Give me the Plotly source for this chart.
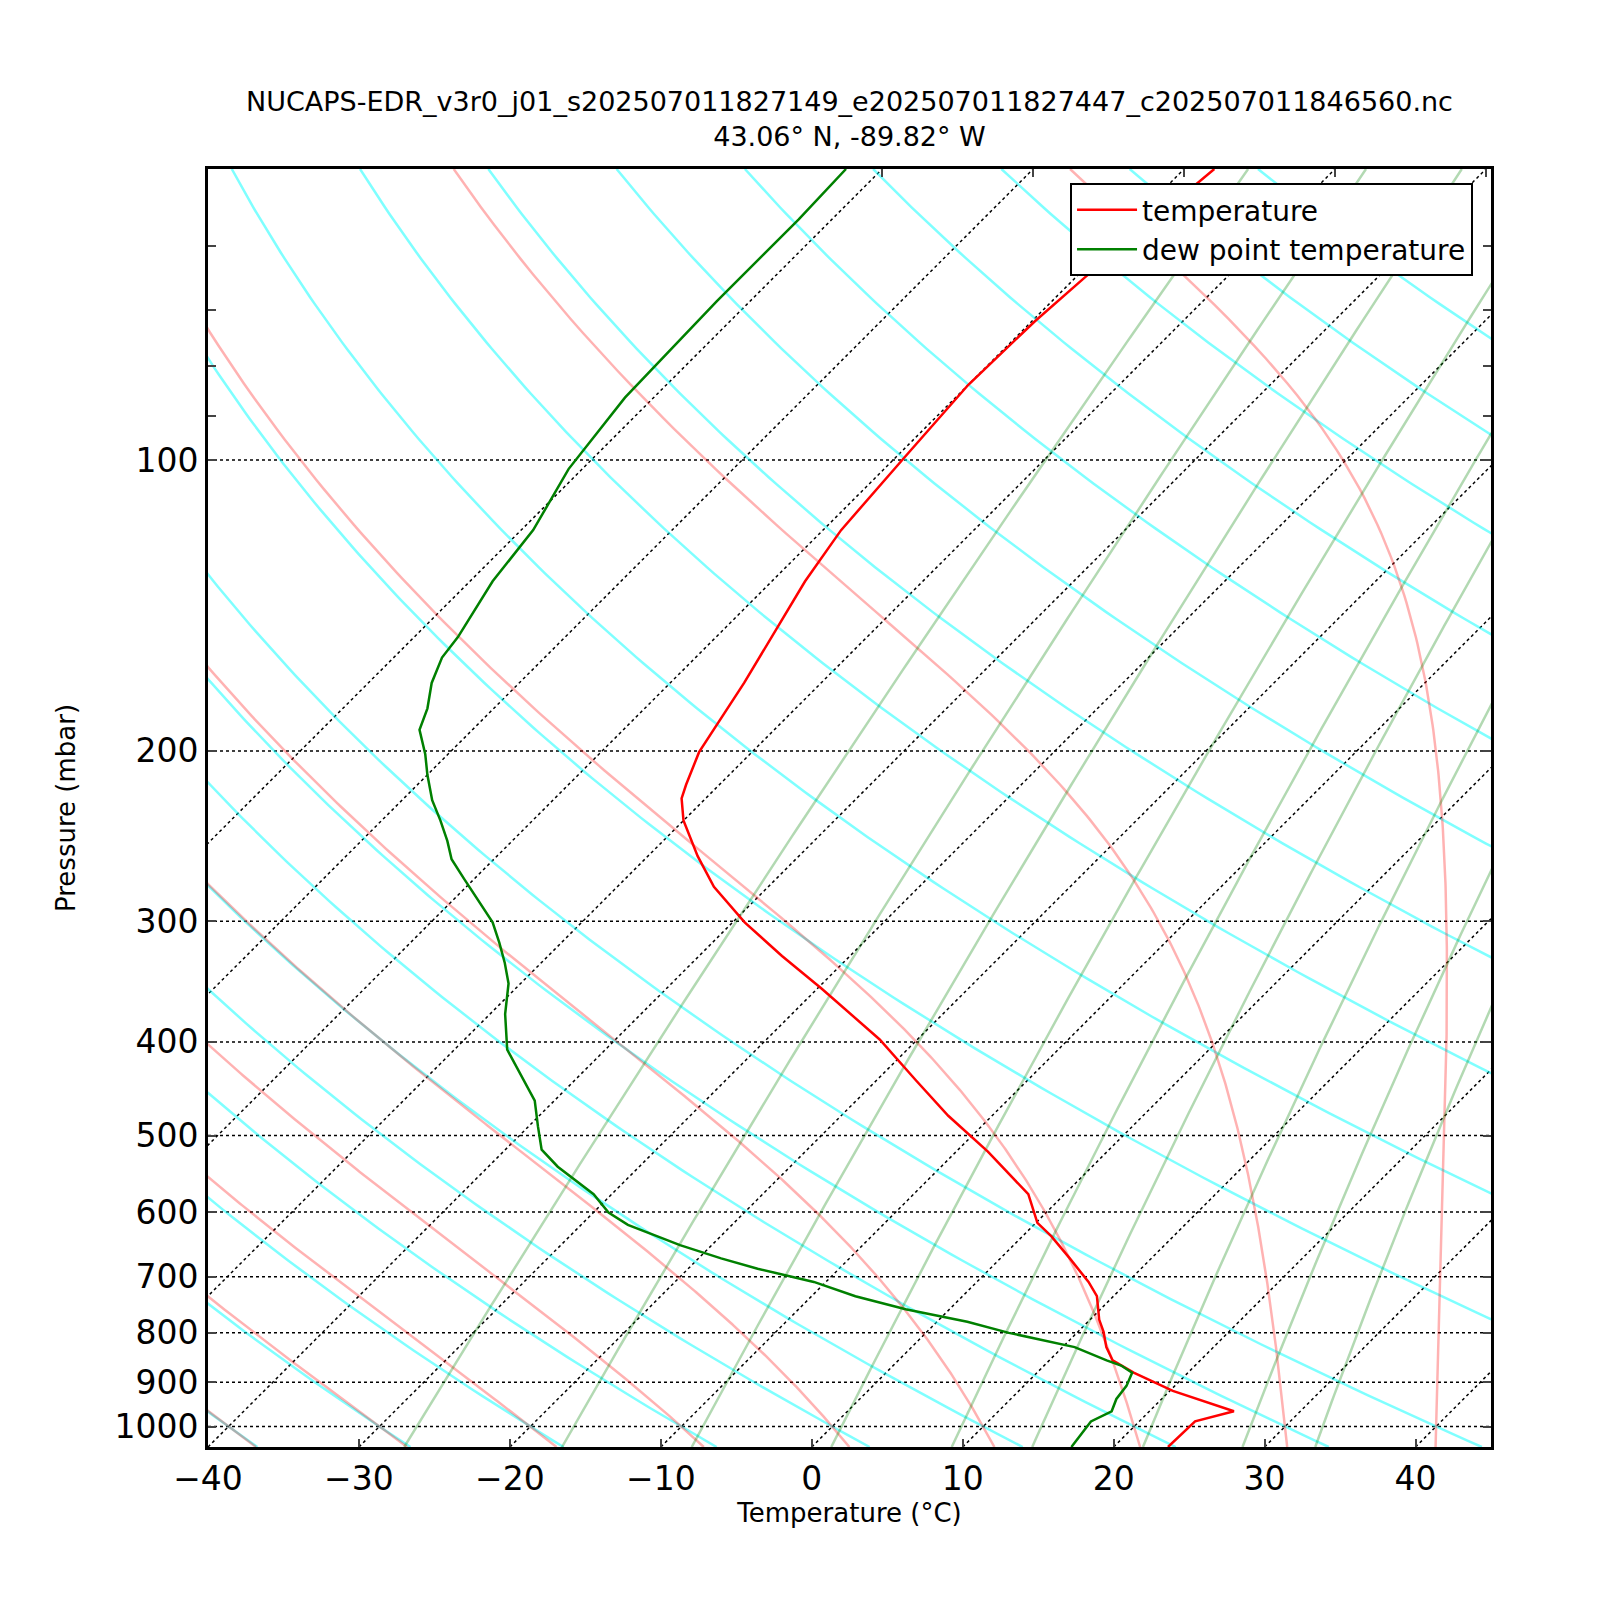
import numpy as np
import plotly.graph_objects as go

# sounding (pressure in mbar, temperature in degC)
temp_p = [50, 64.8, 71.9, 83.6, 100, 118.2, 133.5, 170.1, 200.6, 216.8, 223.9, 236.1, 257, 276.4,
          300.9, 326, 352.4, 397.7, 438.3, 477, 519.5, 551.8, 575, 615.6, 635.5, 670, 708.6, 733.1,
          775.1, 798, 827.7, 854.3, 879.6, 918.5, 964.3, 987.9, 1050]
temp_c = [-58.0, -59.4, -59.8, -60.0, -59.4, -58.8, -57.8, -55.1, -53.5, -52.2, -51.6, -50.0, -46.7, -43.6,
          -39.2, -34.5, -29.7, -22.5, -17.4, -12.9, -7.9, -4.6, -2.4, 0.1, 1.9, 4.6, 7.4, 8.9,
          10.6, 11.7, 12.9, 14.2, 16.4, 20.2, 25.6, 23.7, 23.6]
dew_p = [50, 56.4, 68.5, 86.2, 102.2, 118.2, 133.5, 152.5, 160.1, 170.1, 180.7, 190.2, 201.6, 211.7,
         224.9, 236.1, 247.8, 258.9, 271.1, 286.7, 300.9, 315.9, 331.5, 348, 374.3, 407.5, 433, 460.1,
         488.9, 517, 538.5, 575, 600.6, 618.5, 649.2, 670, 686.6, 708.6, 733.1, 756.4, 779, 800,
         827.7, 854.3, 864.8, 879.6, 907.7, 936.5, 964.3, 987.9, 1050]
dew_c = [-82.4, -82.2, -82.2, -81.9, -80.9, -79.2, -78.5, -77.1, -76.8, -75.8, -74.4, -73.5, -71.5, -70.0,
         -68.0, -66.1, -64.3, -62.8, -60.7, -58.1, -55.9, -54.1, -52.4, -50.8, -49.0, -46.5, -43.9, -41.3,
         -39.4, -37.6, -35.4, -31.2, -29.0, -26.9, -22.1, -18.5, -15.4, -10.8, -7.1, -2.9, 2.0, 5.5,
         10.8, 13.8, 15.1, 16.3, 16.8, 17.0, 17.5, 16.8, 17.2]

# background lines
dry_t0 = list(range(-40, 41, 10)) + list(range(60, 241, 20))
moist_t0 = list(range(-40, 41, 10))
mix_ratios = [0.4, 1, 2, 4, 7, 10, 16, 24, 32]  # g/kg
isotherms = list(range(-80, 51, 10))
pres_grid = [100, 200, 300, 400, 500, 600, 700, 800, 900, 1000]

title = ("NUCAPS-EDR_v3r0_j01_s202507011827149_e202507011827447_c202507011846560.nc"
         "<br>43.06° N, -89.82° W")

W, H = 1600, 1600
L, R, T, B = 200, 117, 161, 161
XMIN, XMAX = -40, 45
PBOT, PTOP = 1050, 50
K = ((H - T - B) / np.log10(PBOT / PTOP)) / ((W - L - R) / (XMAX - XMIN))


def skew(t, p):
    return np.asarray(t) + K * np.log10(PBOT / np.asarray(p))


def es(tk):
    return 6.112 * np.exp(17.67 * (tk - 273.15) / (tk - 29.65))


def moist_rate(tk, p):
    e = es(tk)
    rs = 0.622 * e / (p - e)
    return (287.04 * tk + 2.501e6 * rs) / (p * (1005.7 + 2.501e6 ** 2 * rs * 0.622 / (287.04 * tk ** 2)))


def moist_line(t0, p_end, n=400):
    ps = np.linspace(1000, p_end, n)
    ts = [t0 + 273.15]
    for i in range(n - 1):
        p, h, t = ps[i], ps[i + 1] - ps[i], ts[-1]
        k1 = moist_rate(t, p)
        k2 = moist_rate(t + h * k1 / 2, p + h / 2)
        k3 = moist_rate(t + h * k2 / 2, p + h / 2)
        k4 = moist_rate(t + h * k3, p + h)
        ts.append(t + h * (k1 + 2 * k2 + 2 * k3 + k4) / 6)
    return ps, np.array(ts) - 273.15


fig = go.Figure()
p_line = np.geomspace(PTOP, PBOT, 200)

for t in isotherms:
    fig.add_trace(go.Scatter(x=skew([t, t], [PBOT, PTOP]), y=[PBOT, PTOP], mode="lines",
                             line=dict(color="black", width=1.5, dash="dot"),
                             showlegend=False, hoverinfo="skip"))

for p in pres_grid:
    fig.add_trace(go.Scatter(x=[XMIN, XMAX], y=[p, p], mode="lines",
                             line=dict(color="black", width=1.5, dash="dot"),
                             showlegend=False, hoverinfo="skip"))

for th in dry_t0:
    tt = (th + 273.15) * (p_line / 1000) ** 0.2857 - 273.15
    fig.add_trace(go.Scatter(x=skew(tt, p_line), y=p_line, mode="lines",
                             line=dict(color="rgba(0,255,255,0.5)", width=2.5),
                             showlegend=False, hoverinfo="skip"))

for t0 in moist_t0:
    pu, tu = moist_line(t0, PTOP)
    pd, td = moist_line(t0, PBOT, 20)
    pp = np.concatenate([pd[::-1], pu[1:]])
    tt = np.concatenate([td[::-1], tu[1:]])
    fig.add_trace(go.Scatter(x=skew(tt, pp), y=pp, mode="lines",
                             line=dict(color="rgba(255,0,0,0.3)", width=2.5),
                             showlegend=False, hoverinfo="skip"))

for w in mix_ratios:
    e = (w / 1000) * p_line / (0.622 + w / 1000)
    ln = np.log(e / 6.112)
    tdw = 243.5 * ln / (17.67 - ln)
    fig.add_trace(go.Scatter(x=skew(tdw, p_line), y=p_line, mode="lines",
                             line=dict(color="rgba(0,128,0,0.3)", width=2.5),
                             showlegend=False, hoverinfo="skip"))

fig.add_trace(go.Scatter(x=skew(temp_c, temp_p), y=temp_p, mode="lines",
                         line=dict(color="red", width=2.5), name="temperature"))
fig.add_trace(go.Scatter(x=skew(dew_c, dew_p), y=dew_p, mode="lines",
                         line=dict(color="green", width=2.5), name="dew point temperature"))

# top-edge ticks where the isotherms meet the upper axis
top_ticks = [float(v) for v in skew(isotherms, PTOP) if XMIN < v < XMAX]
fig.add_trace(go.Scatter(x=[XMIN], y=[PTOP], xaxis="x2", mode="markers",
                         marker=dict(opacity=0), showlegend=False, hoverinfo="skip"))

fig.update_layout(
    width=W, height=H,
    margin=dict(l=L, r=R, t=T, b=B),
    plot_bgcolor="white", paper_bgcolor="white",
    font=dict(family="DejaVu Sans", color="black"),
    title=dict(text=title, x=0.5, xref="paper", xanchor="center", y=1 - 103 / H, yanchor="top",
               font=dict(size=27)),
    legend=dict(x=0.986, y=0.989, xanchor="right", yanchor="top", bgcolor="white",
                bordercolor="black", borderwidth=2, font=dict(size=28), itemwidth=60),
    xaxis=dict(range=[XMIN, XMAX], tickvals=list(range(-40, 41, 10)),
               ticktext=[str(v).replace("-", "−") for v in range(-40, 41, 10)],
               ticks="inside", ticklen=8, tickwidth=1.5, showgrid=False, zeroline=False,
               showline=True, linewidth=3, linecolor="black", mirror=True,
               tickfont=dict(size=33),
               title=dict(text="Temperature (°C)", font=dict(size=26), standoff=8)),
    xaxis2=dict(range=[XMIN, XMAX], overlaying="x", side="top", tickvals=top_ticks,
                showticklabels=False, ticks="inside", ticklen=8, tickwidth=1.5,
                showgrid=False, zeroline=False, showline=False),
    yaxis=dict(type="log", range=[np.log10(PBOT), np.log10(PTOP)],
               tickvals=[50, 60, 70, 80, 90] + pres_grid,
               ticktext=["", "", "", "", ""] + [str(v) for v in pres_grid],
               ticks="inside", ticklen=8, tickwidth=1.5, showgrid=False, zeroline=False,
               showline=True, linewidth=3, linecolor="black", mirror="ticks",
               tickfont=dict(size=33),
               title=dict(text="Pressure (mbar)", font=dict(size=26), standoff=32)),
)

fig.write_html("out.html")
